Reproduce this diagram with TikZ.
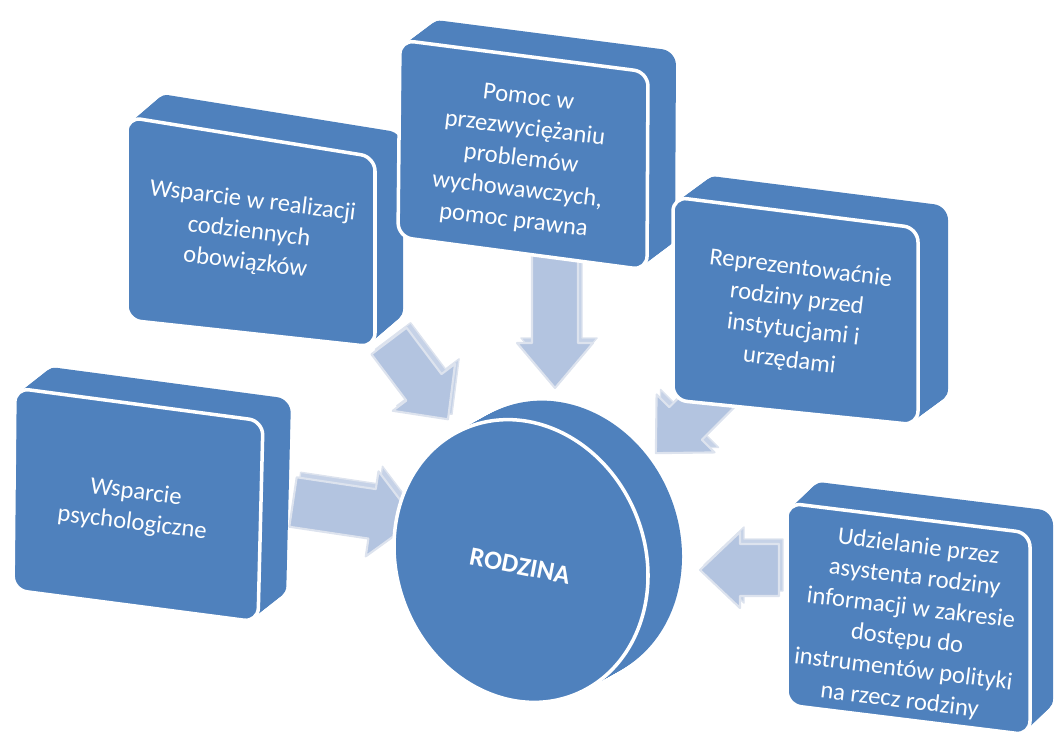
\documentclass[tikz,border=0pt]{standalone}
\usepackage{fontspec}
\setmainfont{Carlito}
\usetikzlibrary{calc}
\definecolor{boxblue}{HTML}{4F81BD}
\definecolor{arrowfill}{HTML}{B3C4E0}
\definecolor{arrowside}{HTML}{C6D2E7}
\definecolor{arrowedge}{HTML}{DDE3EE}
\tikzset{
  lbl/.style={text=white, align=center, font=\fontsize{14}{17.6}\selectfont, inner sep=0pt},
  frontface/.style={fill=boxblue, draw=white, line width=2pt, rounded corners=8pt},
  backface/.style={fill=boxblue, rounded corners=8pt},
  arrbody/.style={fill=arrowfill, draw=arrowedge, line width=1.2pt, line join=round},
  arrside/.style={fill=arrowside, draw=arrowedge, line width=0.8pt, line join=round}
}
% #1-#4 front corners, #5 dx, #6 dy
\newcommand\tdbox[6]{%
  \foreach \k in {20,19,...,1}{%
    \fill[backface, shift={(\k*#5/20,\k*#6/20)}] #1 -- #2 -- #3 -- #4 -- cycle;}
  \path[frontface] #1 -- #2 -- #3 -- #4 -- cycle;}
% #1 tail, #2 angle, #3 length, #4 shaft half width, #5 head half width, #6 head length, #7 name
\newcommand\blockarr[7]{%
  \begin{scope}[shift={#1}, shift={(4,-5)}, rotate=#2]
    \path[arrside] (0,-#4) -- ({#3-#6},-#4) -- ({#3-#6},-#5) -- (#3,0) -- ({#3-#6},#5) -- ({#3-#6},#4) -- (0,#4) -- cycle;
  \end{scope}
  \begin{scope}[shift={#1}, rotate=#2]
    \path[arrbody] (0,-#4) -- ({#3-#6},-#4) -- ({#3-#6},-#5) -- (#3,0) -- ({#3-#6},#5) -- ({#3-#6},#4) -- (0,#4) -- cycle;
    \coordinate (#7tail) at (0,0);
    \coordinate (#7tip) at (#3,0);
  \end{scope}}
\begin{document}
\begin{tikzpicture}[x=0.02cm, y=-0.02cm]
\useasboundingbox (0,0) rectangle (1054,738);
% arrows (behind)
\blockarr{(293,502)}{-8.5}{124}{25}{43}{44}{arrA}
\blockarr{(389,341)}{-53}{98}{22}{39}{40}{arrB}
\blockarr{(555,255)}{-90}{133}{23}{38}{45}{arrC}
\blockarr{(728,381)}{-135}{102}{23}{41}{42}{arrD}
\blockarr{(779,570)}{180}{79}{26}{38}{40}{arrE}
% boxes
\tdbox{(15,388)}{(263,421)}{(258,622)}{(13,590)}{28}{-22}
\node[lbl, rotate=-7] (b1) at (134,508) {Wsparcie\\psychologiczne};
\tdbox{(127,117)}{(375,157)}{(375,347)}{(127,320)}{28}{-24}
\node[lbl, rotate=-7] (b2) at (249,232) {Wsparcie w realizacji\\codziennych\\obowiązków};
\tdbox{(400,40)}{(648,72)}{(647,270)}{(398,237)}{28}{-21}
\node[lbl, rotate=-7] (b3) at (521,160) {Pomoc w\\przezwyciężaniu\\problemów\\wychowawczych,\\pomoc prawna};
\tdbox{(673,197)}{(918,228)}{(918,425)}{(673,400)}{30}{-22}
\node[lbl, rotate=-7] (b4) at (795,315) {Reprezentowaćnie\\rodziny przed\\instytucjami i\\urzędami};
\tdbox{(787,503)}{(1030,533)}{(1030,735)}{(787,705)}{23}{-22}
\node[lbl, rotate=-7] (b5) at (909,624) {Udzielanie przez\\asystenta rodziny\\informacji w zakresie\\dostępu do\\instrumentów polityki\\na rzecz rodziny};
% disc
\foreach \k in {20,19,...,1}{%
  \fill[boxblue, shift={(521+\k*34/20,561-\k*19/20)}, rotate=22] (0,0) ellipse [x radius=2.48cm, y radius=2.88cm];}
\path[fill=boxblue, draw=white, line width=2pt, shift={(521,561)}, rotate=22] (0,0) ellipse [x radius=2.48cm, y radius=2.88cm];
\node[lbl, font=\fontsize{15}{18}\selectfont\bfseries, rotate=-11] (c) at (520,566) {RODZINA};
\end{tikzpicture}
\end{document}
